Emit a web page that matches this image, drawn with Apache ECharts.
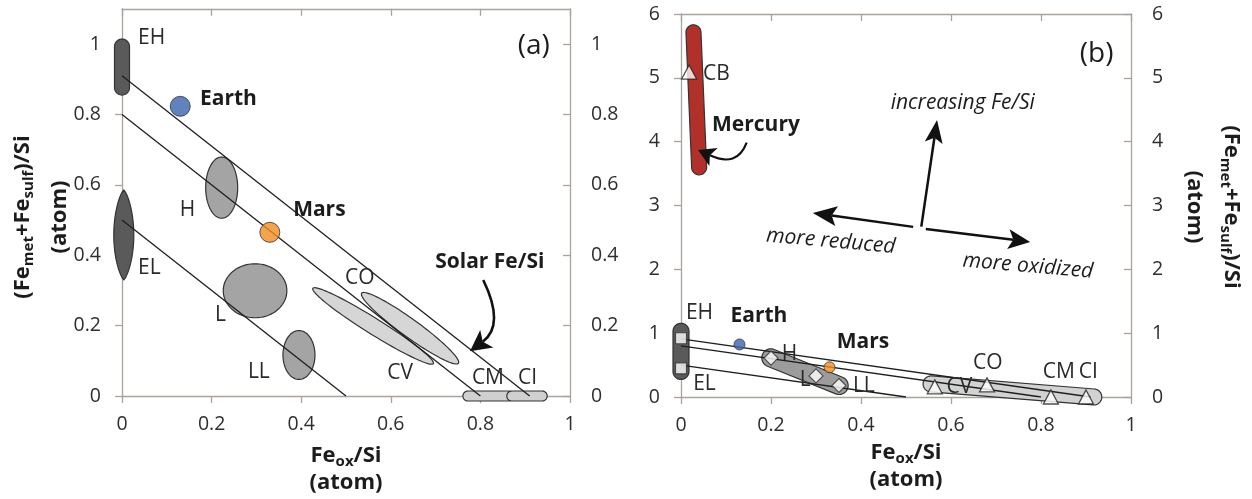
<!DOCTYPE html>
<html><head><meta charset="utf-8">
<script src="https://cdn.jsdelivr.net/npm/echarts@6/dist/echarts.min.js"></script>
<style>html,body{margin:0;padding:0;background:#fff}#c{width:1252px;height:499px}</style>
</head><body><div id="c"></div>
<script>
// ================= DATA =================
const xTicks = [0, 0.2, 0.4, 0.6, 0.8, 1];
const yTicksA = [0, 0.2, 0.4, 0.6, 0.8, 1];
const yTicksB = [0, 1, 2, 3, 4, 5, 6];

// constant total-Fe/Si lines (Fe_met+Fe_sulf + Fe_ox = const)
const isoSolar = [[0, 0.91], [0.91, 0]];
const isoMid = [[0, 0.80], [0.80, 0]];
const isoLow = [[0, 0.50], [0.50, 0]];

// planets
const planetNames = ['Earth', 'Mars'];
const planetFeOx = [0.13, 0.33];
const planetFeMet = [0.823, 0.465];

// panel (a) chondrite fields: extent endpoints along the main axis
const fieldNamesA = ['EH', 'EL', 'H', 'L', 'LL', 'CV', 'CO', 'CM', 'CI'];
const fieldX1A = [0, 0.004, 0.2225, 0.226, 0.395, 0.426, 0.535, 0.761, 0.859];
const fieldY1A = [0.855, 0.33, 0.505, 0.299, 0.047, 0.306, 0.292, 0, 0];
const fieldX2A = [0, 0.004, 0.2225, 0.368, 0.395, 0.695, 0.751, 0.872, 0.949];
const fieldY2A = [1.014, 0.585, 0.679, 0.299, 0.186, 0.092, 0.093, 0, 0];

// panel (b) fields
const fieldNamesB = ['CB', 'E', 'OC', 'CC'];
const fieldX1B = [0.027, 0, 0.181, 0.538];
const fieldY1B = [5.83, 1.155, 0.666, 0.215];
const fieldX2B = [0.041, 0, 0.370, 0.935];
const fieldY2B = [3.48, 0.275, 0.127, -0.01];

// panel (b) chondrite group means
const squareX = [0, 0];            // EH, EL
const squareY = [0.92, 0.45];
const diamondX = [0.2, 0.3, 0.351]; // H, L, LL
const diamondY = [0.61, 0.33, 0.18];
const triX = [0.018, 0.564, 0.68, 0.822, 0.9]; // CB, CV, CO, CM, CI
const triY = [5.09, 0.16, 0.19, 0.0, 0.0];

// text annotations (anchor in data units)
const labelsA = ['EH', 'Earth', 'H', 'Mars', 'EL', 'L', 'LL', 'CO', 'CV', 'CM', 'CI', 'Solar Fe/Si', '(a)'];
const labelXA = [0.0357, 0.174, 0.129, 0.382, 0.0357, 0.2076, 0.281, 0.498, 0.592, 0.781, 0.884, 0.699, 0.955];
const labelYA = [1.017, 0.844, 0.528, 0.528, 0.364, 0.230, 0.068, 0.335, 0.065, 0.051, 0.051, 0.381, 0.994];
const labelKindA = ['n', 'b', 'n', 'b', 'n', 'n', 'n', 'n', 'n', 'n', 'n', 'b', 'p'];

const labelsB = ['CB', 'Mercury', 'increasing Fe/Si', 'more reduced', 'more oxidized', 'EH', 'Earth', 'Mars', 'H', 'EL', 'L', 'LL', 'CO', 'CV', 'CM', 'CI', '(b)'];
const labelXB = [0.049, 0.069, 0.466, 0.333, 0.771, 0.011, 0.11, 0.346, 0.224, 0.027, 0.264, 0.382, 0.649, 0.590, 0.804, 0.884, 0.961];
const labelYB = [5.06, 4.26, 4.6, 2.44, 2.05, 1.32, 1.27, 0.854, 0.674, 0.2, 0.27, 0.17, 0.54, 0.15, 0.384, 0.384, 5.376];
const labelKindB = ['n', 'b', 'i', 'ic', 'ic', 'n', 'b', 'b', 'n', 'n', 'n', 'n', 'n', 'n', 'n', 'n', 'p'];

// arrows: start, control (null = straight), tip
const arrowX0A = [0.8064], arrowY0A = [0.3295], arrowCXA = [0.855], arrowCYA = [0.2017], arrowX1A = [0.7768], arrowY1A = [0.127];
const arrowX0B = [0.1459, 0.534, 0.516, 0.544];
const arrowY0B = [3.986, 2.67, 2.665, 2.633];
const arrowCXB = [0.1244, null, null, null];
const arrowCYB = [3.589, null, null, null];
const arrowX1B = [0.038, 0.569, 0.293, 0.776];
const arrowY1B = [3.871, 4.34, 2.884, 2.43];

// ================= STYLE =================
const FONT = '"Open Sans", "Noto Sans", sans-serif';
const AX = '#aaa39c';
const INK = '#1c1c1c';
const FIELD_STYLE = {
  EH: { shape: 'capsule', hw: 7.5, fill: '#5a5a5a' },
  EL: { shape: 'lens', hw: 10, fill: '#5a5a5a' },
  H: { shape: 'ellipse', hw: 16, fill: '#a4a4a4' },
  L: { shape: 'ellipse', hw: 27, fill: '#a4a4a4' },
  LL: { shape: 'ellipse', hw: 16, fill: '#a4a4a4' },
  CV: { shape: 'ellipse', hw: 8, fill: '#d6d6d6' },
  CO: { shape: 'ellipse', hw: 9, fill: '#d6d6d6' },
  CM: { shape: 'capsule', hw: 5, fill: '#d0d0d0' },
  CI: { shape: 'capsule', hw: 5, fill: '#d0d0d0' },
  CB: { shape: 'capsule', hw: 7.5, fill: '#b2302a' },
  E: { shape: 'capsule', hw: 8, fill: '#5a5a5a' },
  OC: { shape: 'capsule', hw: 9, fill: '#9c9c9c' },
  CC: { shape: 'capsule', hw: 8, fill: '#d2d2d2' }
};
const TEXT_STYLE = {
  n: { font: '21px ' + FONT, fill: '#2a2a2a', align: 'left' },
  b: { font: 'bold 21px ' + FONT, fill: INK, align: 'left' },
  i: { font: 'italic 21px ' + FONT, fill: INK, align: 'left' },
  ic: { font: 'italic 21px ' + FONT, fill: INK, align: 'center' },
  p: { font: '28px ' + FONT, fill: INK, align: 'right' }
};
const TEXT_ROT = { 'more reduced': -0.09, 'more oxidized': -0.085 };
const ARROW_STYLE_A = [{ len: 21, w: 11, notch: 5, lw: 2.6 }];
const ARROW_STYLE_B = [
  { len: 17, w: 10, notch: 4, lw: 2.2 },
  { len: 23, w: 9, notch: 5, lw: 2.5 },
  { len: 24, w: 10, notch: 5, lw: 2.5 },
  { len: 22, w: 10, notch: 5, lw: 2.5 }
];

// ================= RENDERERS =================
function fieldRenderer(names, x1, y1, x2, y2) {
  return function (params, api) {
    const i = params.dataIndex;
    const st = FIELD_STYLE[names[i]];
    const a = api.coord([x1[i], y1[i]]), b = api.coord([x2[i], y2[i]]);
    const dx = b[0] - a[0], dy = b[1] - a[1];
    const len = Math.hypot(dx, dy) || 1;
    const u = [dx / len, dy / len], v = [-u[1], u[0]];
    const m = [(a[0] + b[0]) / 2, (a[1] + b[1]) / 2], half = len / 2, w = st.hw;
    const pts = [];
    const P = (base, su, sv) => [base[0] + su * u[0] + sv * v[0], base[1] + su * u[1] + sv * v[1]];
    if (st.shape === 'ellipse') {
      for (let k = 0; k < 96; k++) { const t = 2 * Math.PI * k / 96; pts.push(P(m, half * Math.cos(t), w * Math.sin(t))); }
    } else if (st.shape === 'lens') {
      const prof = s => w * Math.pow(1 - Math.pow(Math.abs(s), 2), 0.75);
      for (let k = 0; k <= 40; k++) { const s = -1 + 2 * k / 40; pts.push(P(m, half * s, prof(s))); }
      for (let k = 39; k > 0; k--) { const s = -1 + 2 * k / 40; pts.push(P(m, half * s, -prof(s))); }
    } else {
      const r = Math.min(w, half);
      const c1 = P(a, r, 0), c2 = P(b, -r, 0);
      for (let k = 0; k <= 24; k++) { const t = -Math.PI / 2 + Math.PI * k / 24; pts.push(P(c2, r * Math.cos(t), r * Math.sin(t))); }
      for (let k = 0; k <= 24; k++) { const t = Math.PI / 2 + Math.PI * k / 24; pts.push(P(c1, r * Math.cos(t), r * Math.sin(t))); }
    }
    return { type: 'polygon', shape: { points: pts }, style: { fill: st.fill, stroke: '#333', lineWidth: 1.2 } };
  };
}
function textRenderer(texts, kinds) {
  return function (params, api) {
    const i = params.dataIndex;
    const p = api.coord([api.value(0), api.value(1)]);
    const ts = TEXT_STYLE[kinds[i]];
    return {
      type: 'text', x: p[0], y: p[1], rotation: TEXT_ROT[texts[i]] || 0,
      style: { text: texts[i], font: ts.font, fill: ts.fill, align: ts.align, verticalAlign: 'middle' }
    };
  };
}
function arrowRenderer(x0, y0, cx, cy, x1, y1, styles) {
  return function (params, api) {
    const i = params.dataIndex, st = styles[i];
    const P0 = api.coord([x0[i], y0[i]]), T = api.coord([x1[i], y1[i]]);
    const C = cx[i] == null ? [(P0[0] + T[0]) / 2, (P0[1] + T[1]) / 2] : api.coord([cx[i], cy[i]]);
    let dx = T[0] - C[0], dy = T[1] - C[1];
    const l = Math.hypot(dx, dy) || 1; dx /= l; dy /= l;
    const nx = -dy, ny = dx;
    const E = [T[0] - dx * (st.len - st.notch), T[1] - dy * (st.len - st.notch)];
    const B = [T[0] - dx * st.len, T[1] - dy * st.len];
    return {
      type: 'group', children: [
        { type: 'bezierCurve', shape: { x1: P0[0], y1: P0[1], x2: E[0], y2: E[1], cpx1: C[0], cpy1: C[1] }, style: { stroke: '#111', lineWidth: st.lw, fill: null } },
        { type: 'polygon', shape: { points: [T, [B[0] + nx * st.w, B[1] + ny * st.w], E, [B[0] - nx * st.w, B[1] - ny * st.w]] }, style: { fill: '#111' } }
      ]
    };
  };
}

// ================= AXES =================
const RICH_AX = {
  b: { fontFamily: FONT, fontSize: 22, fontWeight: 'bold', color: INK, lineHeight: 27 },
  s: { fontFamily: FONT, fontSize: 15, fontWeight: 'bold', color: INK, lineHeight: 18, padding: [12, 0, 0, 0] }
};
const RICH_Y = {
  b: { fontFamily: FONT, fontSize: 22, fontWeight: 'bold', fill: INK, lineHeight: 37 },
  s: { fontFamily: FONT, fontSize: 15, fontWeight: 'bold', fill: INK, lineHeight: 18, padding: [12, 0, 0, 0] }
};
const xName = '{b|Fe}{s|ox}{b|/Si}\n{b|(atom)}';
const yName = '{b|(Fe}{s|met}{b|+Fe}{s|sulf}{b|)/Si}\n{b|(atom)}';

function mkX(grid, pos, showLab, gap) {
  return {
    type: 'value', gridIndex: grid, position: pos, min: 0, max: 1,
    splitLine: { show: false },
    axisLine: { show: true, onZero: false, lineStyle: { color: AX, width: 1.3 } },
    axisTick: { show: true, inside: pos === 'top', length: 7, customValues: xTicks, lineStyle: { color: AX, width: 1.3 } },
    axisLabel: { show: showLab, customValues: xTicks, margin: 18, fontSize: 19.5, color: '#2e2e2e', fontFamily: FONT },
    name: showLab ? xName : '', nameLocation: 'middle', nameGap: gap, nameMoveOverlap: false,
    nameTextStyle: { rich: RICH_AX }
  };
}
function mkY(grid, pos, max, ticks) {
  return {
    type: 'value', gridIndex: grid, position: pos, min: 0, max: max,
    splitLine: { show: false },
    axisLine: { show: true, onZero: false, lineStyle: { color: AX, width: 1.3 } },
    axisTick: { show: true, inside: pos === 'right', length: 7, customValues: ticks, lineStyle: { color: AX, width: 1.3 } },
    axisLabel: { show: true, customValues: ticks, margin: 21, fontSize: 19.5, color: '#2e2e2e', fontFamily: FONT }
  };
}

// ================= SERIES =================
function lineSeries(pts, xi, yi) {
  return { type: 'line', xAxisIndex: xi, yAxisIndex: yi, data: pts, symbol: 'none', z: 3, silent: true,
    lineStyle: { color: '#1e1e1e', width: 1.3 }, animation: false };
}
function planetSeries(xi, yi, size) {
  const colors = ['#3b63ad', '#f18c22'];
  return { type: 'scatter', xAxisIndex: xi, yAxisIndex: yi, z: 4, symbol: 'circle', symbolSize: size,
    data: planetNames.map((n, i) => ({ value: [planetFeOx[i], planetFeMet[i]], itemStyle: { color: colors[i] } })),
    itemStyle: { borderColor: '#333', borderWidth: 1 } };
}
function fieldData(x1, y1, x2, y2) { return x1.map((v, i) => [x1[i], y1[i], x2[i], y2[i]]); }

const series = [
  { type: 'custom', xAxisIndex: 0, yAxisIndex: 0, z: 1, renderItem: fieldRenderer(fieldNamesA, fieldX1A, fieldY1A, fieldX2A, fieldY2A),
    data: fieldData(fieldX1A, fieldY1A, fieldX2A, fieldY2A), encode: { x: [0, 2], y: [1, 3] } },
  lineSeries(isoSolar, 0, 0), lineSeries(isoMid, 0, 0), lineSeries(isoLow, 0, 0),
  planetSeries(0, 0, 20),
  { type: 'custom', xAxisIndex: 0, yAxisIndex: 0, z: 5, renderItem: textRenderer(labelsA, labelKindA),
    data: labelXA.map((v, i) => [labelXA[i], labelYA[i]]) },
  { type: 'custom', xAxisIndex: 0, yAxisIndex: 0, z: 5, renderItem: arrowRenderer(arrowX0A, arrowY0A, arrowCXA, arrowCYA, arrowX1A, arrowY1A, ARROW_STYLE_A),
    data: arrowX0A.map((v, i) => [arrowX0A[i], arrowY0A[i]]) },

  { type: 'custom', xAxisIndex: 2, yAxisIndex: 2, z: 1, renderItem: fieldRenderer(fieldNamesB, fieldX1B, fieldY1B, fieldX2B, fieldY2B),
    data: fieldData(fieldX1B, fieldY1B, fieldX2B, fieldY2B), encode: { x: [0, 2], y: [1, 3] } },
  lineSeries(isoSolar, 2, 2), lineSeries(isoMid, 2, 2), lineSeries(isoLow, 2, 2),
  planetSeries(2, 2, 11),
  { type: 'scatter', xAxisIndex: 2, yAxisIndex: 2, z: 4, symbol: 'rect', symbolSize: 11,
    data: squareX.map((v, i) => [squareX[i], squareY[i]]), itemStyle: { color: '#fff', borderColor: '#333', borderWidth: 1.2 } },
  { type: 'scatter', xAxisIndex: 2, yAxisIndex: 2, z: 4, symbol: 'diamond', symbolSize: 14,
    data: diamondX.map((v, i) => [diamondX[i], diamondY[i]]), itemStyle: { color: '#fff', borderColor: '#333', borderWidth: 1.2 } },
  { type: 'scatter', xAxisIndex: 2, yAxisIndex: 2, z: 4, symbol: 'triangle', symbolSize: [15, 14],
    data: triX.map((v, i) => [triX[i], triY[i]]), itemStyle: { color: '#fff', borderColor: '#222', borderWidth: 1.3 } },
  { type: 'custom', xAxisIndex: 2, yAxisIndex: 2, z: 5, renderItem: textRenderer(labelsB, labelKindB),
    data: labelXB.map((v, i) => [labelXB[i], labelYB[i]]) },
  { type: 'custom', xAxisIndex: 2, yAxisIndex: 2, z: 5, renderItem: arrowRenderer(arrowX0B, arrowY0B, arrowCXB, arrowCYB, arrowX1B, arrowY1B, ARROW_STYLE_B),
    data: arrowX0B.map((v, i) => [arrowX0B[i], arrowY0B[i]]) }
];

const chart = echarts.init(document.getElementById('c'), null, { renderer: 'canvas', width: 1252, height: 499 });
chart.setOption({
  animation: false,
  backgroundColor: '#fff',
  textStyle: { fontFamily: FONT },
  grid: [
    { left: 122, top: 8.8, width: 448, height: 387.2 },
    { left: 681, top: 14, width: 450, height: 383 }
  ],
  xAxis: [mkX(0, 'bottom', true, 46), mkX(0, 'top', false, 0), mkX(1, 'bottom', true, 42), mkX(1, 'top', false, 0)],
  yAxis: [mkY(0, 'left', 1.1, yTicksA), mkY(0, 'right', 1.1, yTicksA), mkY(1, 'left', 6, yTicksB), mkY(1, 'right', 6, yTicksB)],
  graphic: [
    { type: 'text', x: 41, y: 217, rotation: Math.PI / 2, style: { text: yName, rich: RICH_Y, align: 'center', verticalAlign: 'middle', fill: INK, font: 'bold 22px ' + FONT } },
    { type: 'text', x: 1213, y: 207, rotation: -Math.PI / 2, style: { text: yName, rich: RICH_Y, align: 'center', verticalAlign: 'middle', fill: INK, font: 'bold 22px ' + FONT } }
  ],
  series: series
});
</script>
</body></html>
